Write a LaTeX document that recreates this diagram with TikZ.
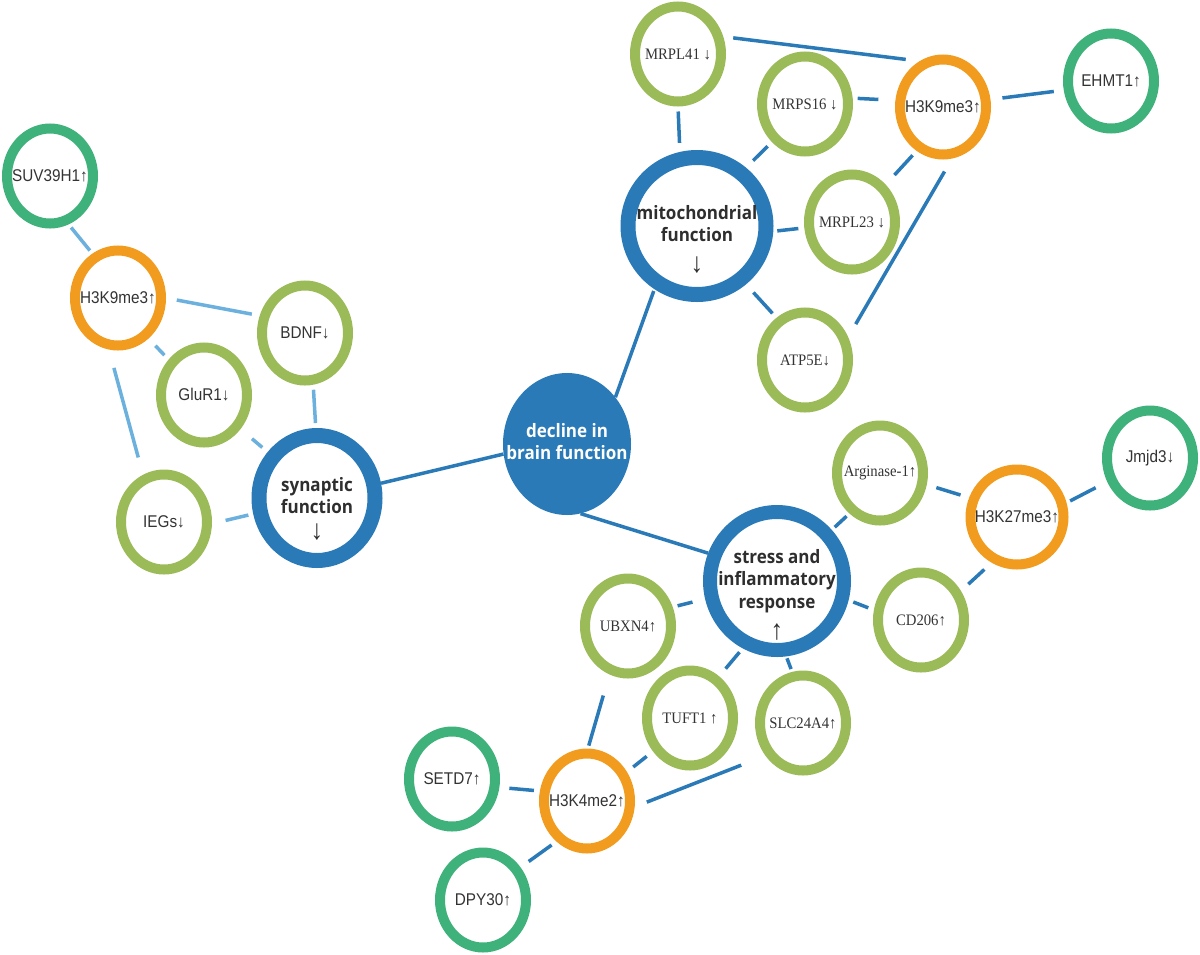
\documentclass[tikz,border=0pt]{standalone}
\usepackage{fontspec}
\setmainfont{Liberation Sans}
\newfontfamily\genesans[FakeStretch=0.9]{Liberation Sans}
\newfontfamily\geneserif[FakeStretch=0.92]{Liberation Serif}
\newfontfamily\catfont[FakeStretch=0.92]{Open Sans}
\usetikzlibrary{shapes.geometric}

\definecolor{leafgreen}{HTML}{9BBB59}
\definecolor{enzgreen}{HTML}{3FB17A}
\definecolor{historange}{HTML}{F29C1F}
\definecolor{funcblue}{HTML}{2A7AB8}
\definecolor{lineblue}{HTML}{6CB0DE}
\definecolor{labtext}{HTML}{333333}
\definecolor{cattext}{HTML}{2E2E2E}

\newcommand{\gl}[1]{\makebox[0pt]{#1}}
\newcommand{\glines}[1]{\makebox[0pt]{\begin{tabular}{@{}c@{}}#1\end{tabular}}}

\begin{document}
\begin{tikzpicture}[
    x=1pt, y=-1pt,
    ring/.style={ellipse, draw, line width=10pt, minimum width=86pt, minimum height=95pt, inner sep=0pt, text=labtext},
    gene/.style={ring, draw=leafgreen},
    enzyme/.style={ring, draw=enzgreen},
    histone/.style={ring, draw=historange},
    sanslab/.style={font=\genesans\fontsize{17}{20}\selectfont},
    seriflab/.style={font=\geneserif\fontsize{16}{19}\selectfont},
    func/.style={ellipse, draw=funcblue, line width=15pt, inner sep=0pt, text=cattext, font=\catfont\bfseries\fontsize{18.5}{22.5}\selectfont},
    core/.style={ellipse, fill=funcblue, minimum width=128pt, minimum height=142pt, inner sep=0pt, text=white, font=\catfont\bfseries\fontsize{18.5}{22.5}\selectfont},
    arrowlab/.style={text=cattext, font=\genesans\fontsize{28}{30}\selectfont},
    conn/.style={draw=funcblue, line width=3.5pt},
    lightconn/.style={conn, draw=lineblue},
    gaps/.style 2 args={shorten <=#1, shorten >=#2}
]
    \useasboundingbox (0,0) rectangle (1200,954);

    % synaptic branch
    \node[enzyme, sanslab] (suv) at (50,176) {\gl{SUV39H1↑}};
    \node[histone, sanslab] (hkl) at (118,298) {\gl{H3K9me3↑}};
    \node[gene, sanslab] (bdnf) at (305,333) {\gl{BDNF↓}};
    \node[gene, sanslab] (glur) at (204,395) {\gl{GluR1↓}};
    \node[gene, sanslab] (iegs) at (164,522) {\gl{IEGs↓}};
    \node[func, minimum width=116pt, minimum height=125pt,
          label={[arrowlab, yshift=-34pt]center:↓}] (syn) at (317,498) {\glines{synaptic\\function}};

    \node[core] (dec) at (567,444) {\raisebox{4pt}{\glines{decline in\\brain function}}};

    % mitochondrial branch
    \node[gene, seriflab] (mrpl41) at (678,54) {\gl{MRPL41 ↓}};
    \node[gene, seriflab] (mrps16) at (805,104) {\gl{MRPS16 ↓}};
    \node[histone, sanslab] (hkr) at (943,107) {\gl{H3K9me3↑}};
    \node[enzyme, sanslab] (ehmt) at (1111,81) {\gl{EHMT1↑}};
    \node[func, minimum width=138pt, minimum height=137pt,
          label={[arrowlab, yshift=-39pt]center:↓}] (mito) at (697,226) {\glines{mitochondrial\\function}};
    \node[gene, seriflab] (mrpl23) at (852,222) {\gl{MRPL23 ↓}};
    \node[gene, seriflab] (atp) at (805,360) {\gl{ATP5E↓}};

    % stress branch
    \node[func, minimum width=134pt, minimum height=138pt, line width=14pt,
          label={[arrowlab, yshift=-51pt]center:↑}] (stress) at (777,581) {\glines{stress and\\inflammatory\\response}};
    \node[gene, seriflab] (arg) at (880,473) {\gl{Arginase-1↑}};
    \node[histone, sanslab, minimum width=93pt] (hk27) at (1017,517) {\gl{H3K27me3↑}};
    \node[enzyme, sanslab] (jmjd) at (1150,458) {\gl{Jmjd3↓}};
    \node[gene, seriflab] (cd206) at (921,620) {\gl{CD206↑}};
    \node[gene, seriflab] (slc) at (803,723) {\gl{SLC24A4↑}};
    \node[gene, seriflab] (ubxn) at (628,626) {\gl{UBXN4↑}};
    \node[gene, seriflab] (tuft) at (690,718) {\gl{TUFT1 ↑}};
    \node[enzyme, sanslab] (setd) at (452,779) {\gl{SETD7↑}};
    \node[histone, sanslab] (hk4) at (587,801) {\gl{H3K4me2↑}};
    \node[enzyme, sanslab] (dpy) at (483,900) {\gl{DPY30↑}};

    % connectors
    \draw[lightconn, gaps={4pt}{4pt}] (suv.-69) -- (hkl.120);
    \draw[lightconn, gaps={11pt}{8pt}] (hkl.0) -- (bdnf.159);
    \draw[lightconn, gaps={10pt}{6pt}] (hkl.-53) -- (glur.135);
    \draw[lightconn, gaps={19pt}{18pt}] (hkl.-100) -- (iegs.114);
    \draw[lightconn, gaps={5pt}{5pt}] (bdnf.-81) -- (syn.91);
    \draw[lightconn, gaps={15pt}{7pt}] (glur.-43) -- (syn.137);
    \draw[lightconn, gaps={14pt}{5pt}] (iegs.-2) -- (syn.194);

    \draw[conn] (syn.13) -- (dec.189);
    \draw[conn, gaps={0pt}{2pt}] (dec.44) -- (mito.236);
    \draw[conn] (dec.-79) -- (stress.158);

    \draw[conn, gaps={5pt}{9pt}] (mrpl41.-90) -- (mito.103);
    \draw[conn, gaps={6pt}{10pt}] (mrps16.229) -- (mito.50);
    \draw[conn, gaps={5pt}{17pt}] (mrps16.7) -- (hkr.172);
    \draw[conn, gaps={13pt}{6pt}] (mrpl23.48) -- (hkr.239);
    \draw[conn, gaps={6pt}{4pt}] (mrpl23.187) -- (mito.-4);
    \draw[conn, gaps={6pt}{11pt}] (atp.124) -- (mito.-50);
    \draw[conn, gaps={15pt}{15pt}] (atp.28) -- (hkr.-80);
    \draw[conn, gaps={10pt}{14pt}] (mrpl41.21) -- (hkr.117);
    \draw[conn, gaps={12pt}{10pt}] (hkr.9) -- (ehmt.191);

    \draw[conn, gaps={4pt}{4pt}] (arg.233) -- (stress.43);
    \draw[conn, gaps={10pt}{9pt}] (arg.-14) -- (hk27.158);
    \draw[conn, gaps={4pt}{13pt}] (hk27.16) -- (jmjd.209);
    \draw[conn, gaps={10pt}{10pt}] (hk27.241) -- (cd206.36);
    \draw[conn, gaps={5pt}{6pt}] (stress.-15) -- (cd206.168);
    \draw[conn, gaps={2pt}{3pt}] (stress.-83) -- (slc.102);
    \draw[conn, gaps={5pt}{10pt}] (stress.243) -- (tuft.55);
    \draw[conn, gaps={13pt}{5pt}] (stress.194) -- (ubxn.23);
    \draw[conn, gaps={22pt}{3pt}] (ubxn.249) -- (hk4.89);
    \draw[conn, gaps={8pt}{8pt}] (tuft.222) -- (hk4.36);
    \draw[conn, gaps={10pt}{6pt}] (setd.-10) -- (hk4.168);
    \draw[conn, gaps={10pt}{6pt}] (dpy.41) -- (hk4.233);
    \draw[conn, gaps={26pt}{13pt}] (slc.221) -- (hk4.-7);
\end{tikzpicture}
\end{document}
